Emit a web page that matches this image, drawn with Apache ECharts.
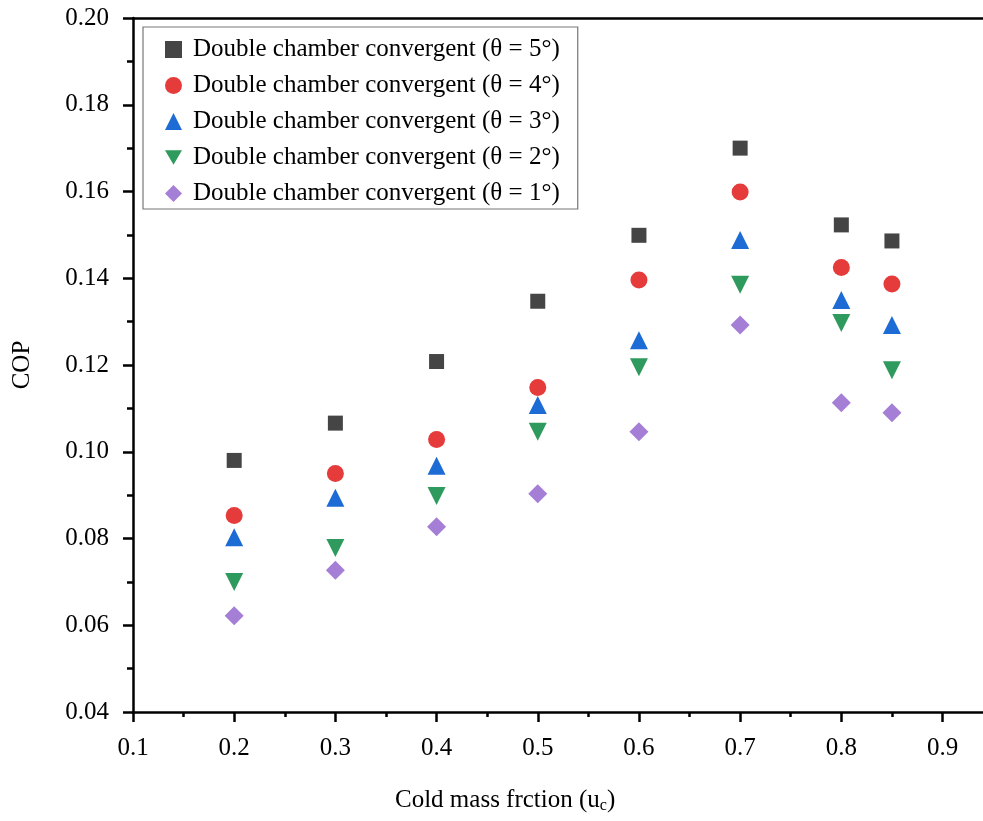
<!DOCTYPE html>
<html><head><meta charset="utf-8">
<script src="https://cdn.jsdelivr.net/npm/echarts@6/dist/echarts.min.js"></script>
<style>html,body{margin:0;padding:0;background:#fff}#c{width:983px;height:821px}</style>
</head><body><div id="c"></div>
<script>
const xValues = [0.2, 0.3, 0.4, 0.5, 0.6, 0.7, 0.8, 0.85];
const theta5 = [0.098, 0.1066, 0.1208, 0.1347, 0.1499, 0.1700, 0.1523, 0.1486];
const theta4 = [0.0853, 0.0950, 0.1028, 0.1148, 0.1396, 0.1599, 0.1425, 0.1387];
const theta3 = [0.0803, 0.0894, 0.0968, 0.1108, 0.1257, 0.1488, 0.1350, 0.1292];
const theta2 = [0.0700, 0.0778, 0.0898, 0.1046, 0.1195, 0.1385, 0.1297, 0.1188];
const theta1 = [0.0622, 0.0727, 0.0827, 0.0903, 0.1046, 0.1292, 0.1113, 0.1090];
const seriesNames = [
  'Double chamber convergent (θ = 5°)',
  'Double chamber convergent (θ = 4°)',
  'Double chamber convergent (θ = 3°)',
  'Double chamber convergent (θ = 2°)',
  'Double chamber convergent (θ = 1°)'
];
const xMajorTicks = [0.1, 0.2, 0.3, 0.4, 0.5, 0.6, 0.7, 0.8, 0.9];
const xMinorTicks = [0.15, 0.25, 0.35, 0.45, 0.55, 0.65, 0.75, 0.85];

const allData = [theta5, theta4, theta3, theta2, theta1];
const colors = ['#454545', '#e63b3b', '#1d6bd4', '#2f9a5d', '#a57fd6'];
const symbols = ['rect', 'circle', 'triangle', 'triangle', 'diamond'];
const rotates = [0, 0, 0, 180, 0];
const sizes = [15, 17, 18, 18, 19];
const legendIcons = ['rect', 'circle', 'triangle', 'path://M0,0L20,0L10,17Z', 'diamond'];

const font = 'Liberation Serif';
const chart = echarts.init(document.getElementById('c'));
const axisLine = {lineStyle: {color: '#000', width: 2.5}};

chart.setOption({
  animation: false,
  grid: {left: 133, right: 0, top: 18, bottom: 109},
  legend: {
    orient: 'vertical', left: 143, top: 27,
    padding: [10, 18, 3, 22],
    borderColor: '#777', borderWidth: 1.2,
    itemWidth: 17, itemHeight: 17, itemGap: 11,
    textStyle: {fontFamily: font, fontSize: 25, color: '#000', padding: [0, 0, 0, 6]},
    data: seriesNames.map((n, i) => ({name: n, icon: legendIcons[i]}))
  },
  xAxis: [
    {
      type: 'value', min: 0.1, max: 0.94, interval: 0.1, position: 'bottom',
      axisLine: axisLine,
      axisTick: {length: 10, lineStyle: {width: 2.5, color: '#000'}, customValues: xMajorTicks},
      axisLabel: {fontFamily: font, fontSize: 25, color: '#000', margin: 24, customValues: xMajorTicks,
        formatter: v => v.toFixed(1)},
      splitLine: {show: false}
    },
    {
      type: 'value', min: 0.1, max: 0.94, position: 'bottom',
      axisLine: {show: false},
      axisTick: {length: 5, lineStyle: {width: 2.5, color: '#000'}, customValues: xMinorTicks},
      axisLabel: {show: false},
      splitLine: {show: false}
    },
    {
      type: 'value', min: 0.1, max: 0.94, position: 'top',
      axisLine: axisLine, axisTick: {show: false}, axisLabel: {show: false}, splitLine: {show: false}
    }
  ],
  yAxis: {
    type: 'value', min: 0.04, max: 0.20, interval: 0.02,
    name: 'COP', nameLocation: 'middle', nameGap: 98,
    nameTextStyle: {fontFamily: font, fontSize: 25, color: '#000'},
    axisLine: axisLine,
    axisTick: {length: 10, lineStyle: {width: 2.5, color: '#000'}},
    minorTick: {show: true, splitNumber: 2, length: 6, lineStyle: {width: 2.5, color: '#000'}},
    axisLabel: {fontFamily: font, fontSize: 25, color: '#000', margin: 24, formatter: v => v.toFixed(2)},
    splitLine: {show: false}
  },
  graphic: [{
    type: 'text', left: 395, top: 788,
    style: {
      text: 'Cold mass frction (u{sub|c})',
      rich: {sub: {fontFamily: font, fontSize: 16, color: '#000', verticalAlign: 'bottom', padding: [10, 0, 0, 0]}},
      font: '25px "Liberation Serif"', fill: '#000'
    }
  }],
  series: allData.map((d, i) => ({
    name: seriesNames[i], type: 'scatter', xAxisIndex: 0,
    symbol: symbols[i], symbolRotate: rotates[i], symbolSize: sizes[i],
    itemStyle: {color: colors[i], opacity: 1},
    data: xValues.map((x, j) => [x, d[j]])
  }))
});
</script></body></html>
